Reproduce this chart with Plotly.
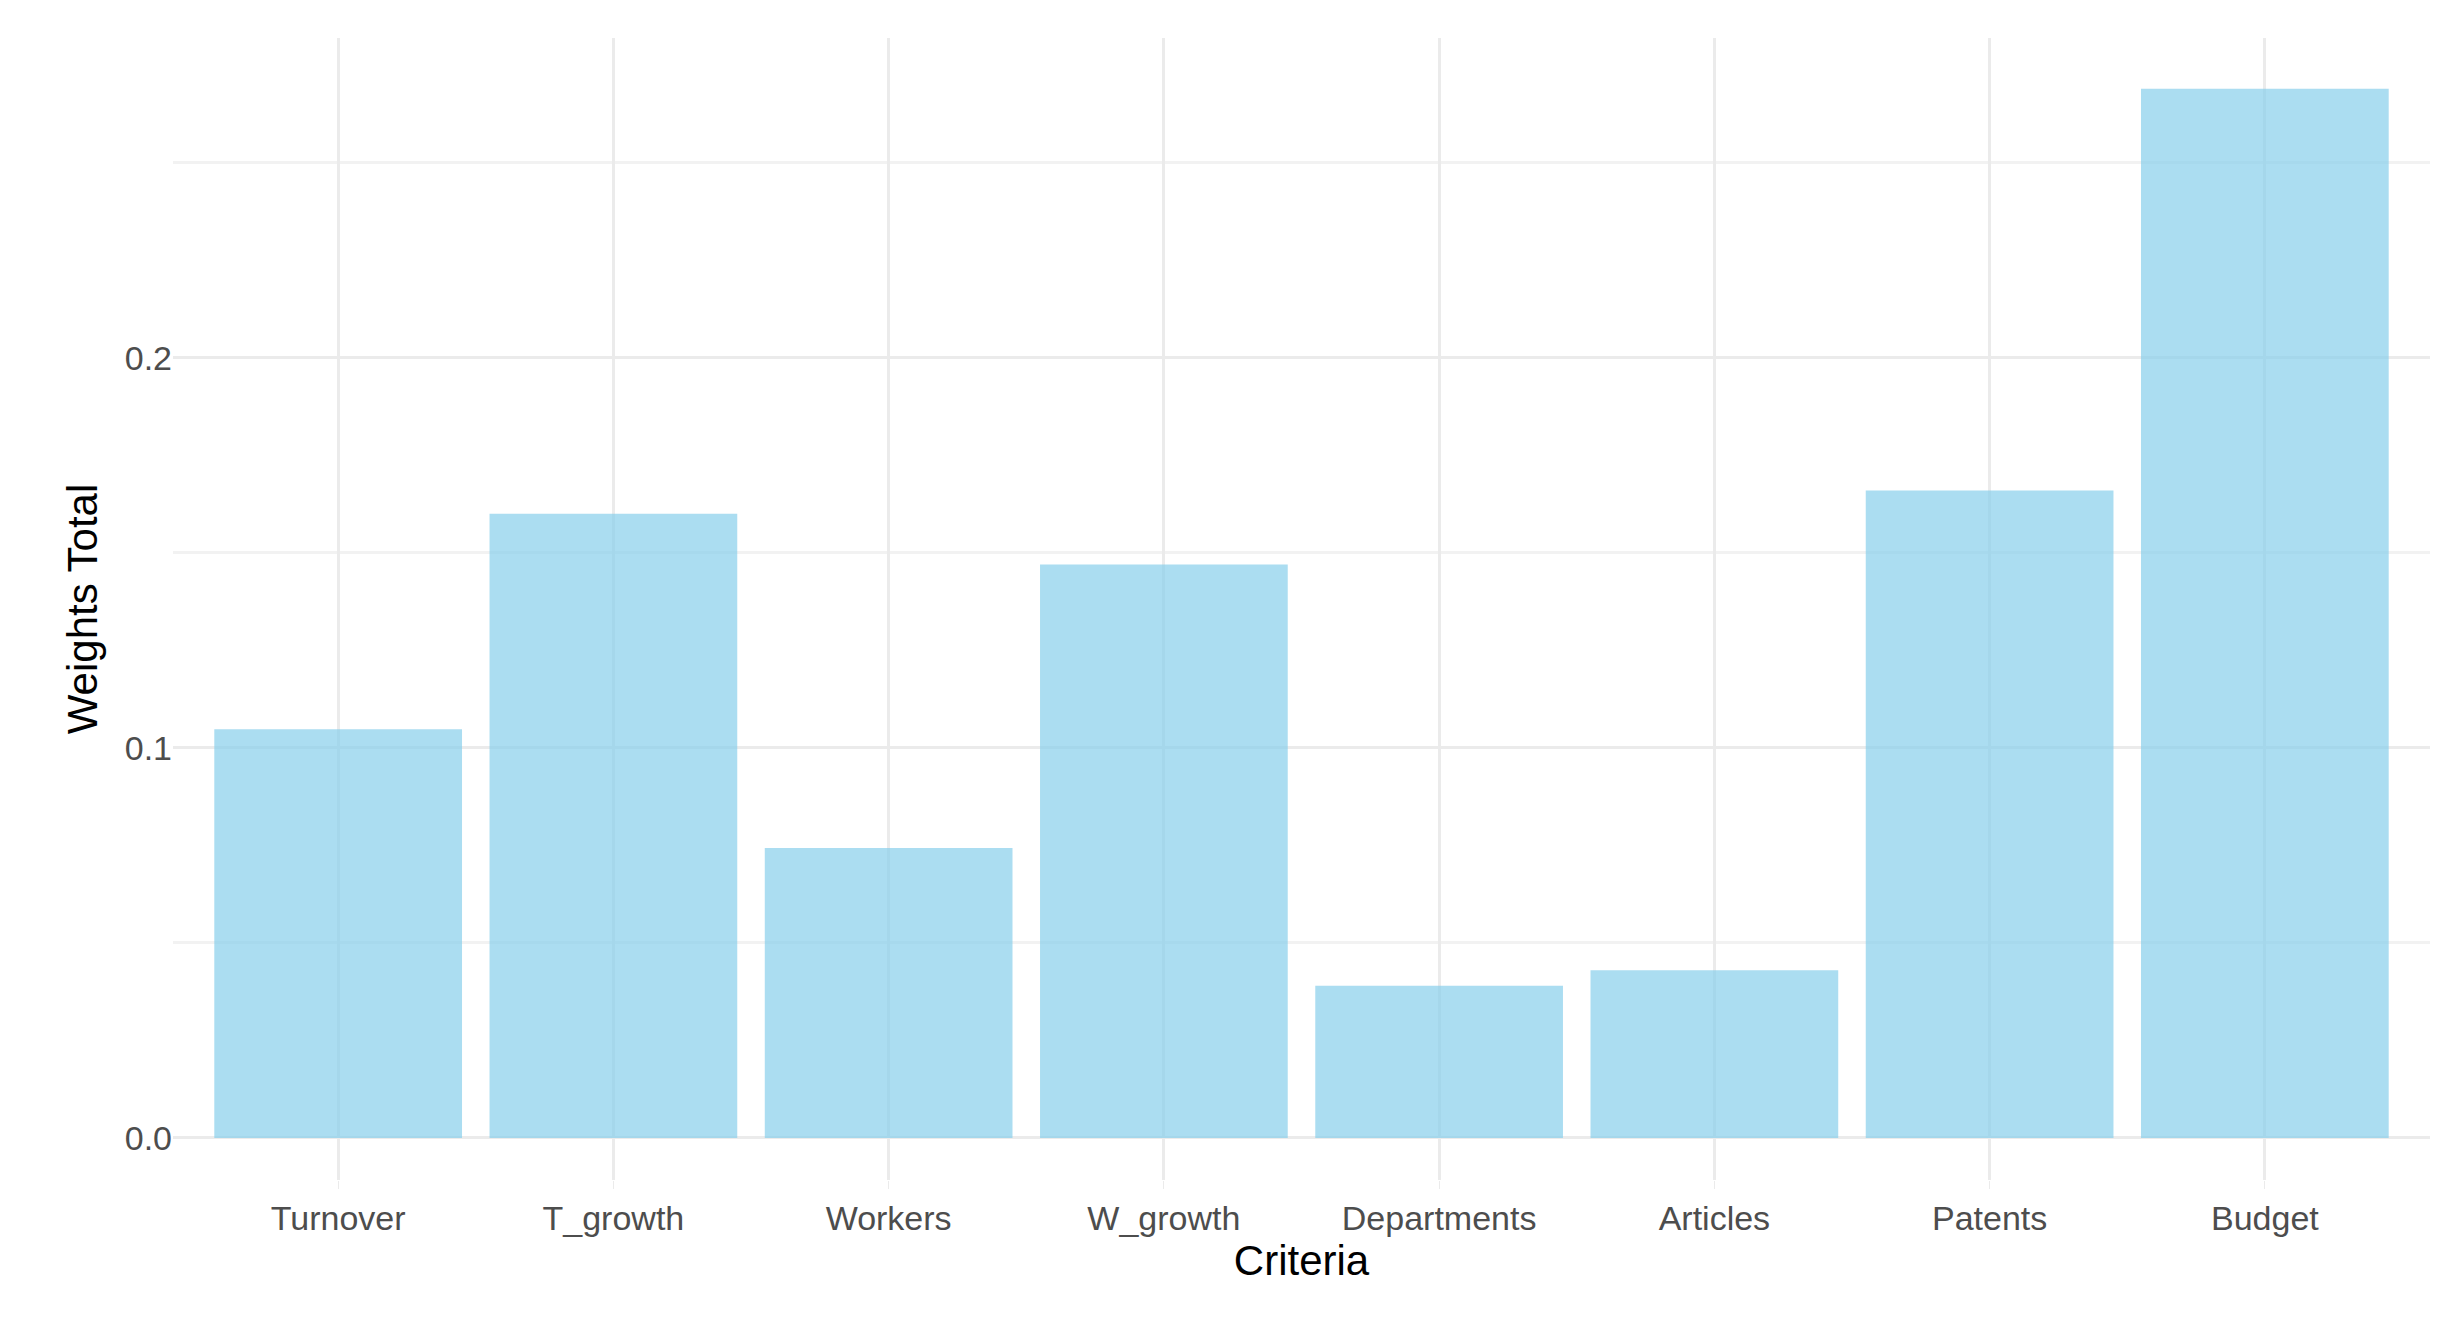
import plotly.graph_objects as go

criteria = ["Turnover", "T_growth", "Workers", "W_growth", "Departments", "Articles", "Patents", "Budget"]
weights = [0.1048, 0.160, 0.0743, 0.147, 0.039, 0.043, 0.166, 0.269]

fig = go.Figure(go.Bar(x=criteria, y=weights, marker=dict(color="skyblue", opacity=0.7, line=dict(width=0)), width=0.9))
fig.update_layout(
    width=2438, height=1342, plot_bgcolor="white", paper_bgcolor="white",
    margin=dict(l=165, r=16, t=30, b=170),
    font=dict(family="Liberation Sans, Arial", color="#4D4D4D", size=34),
    showlegend=False,
    bargap=0.1,
)
fig.update_xaxes(title=dict(text="Criteria", font=dict(size=42, color="black"), standoff=2),
                 range=[-0.6, 7.6], showgrid=True, gridcolor="#EBEBEB", gridwidth=3,
                 ticks="outside", ticklen=8, tickcolor="#EBEBEB", showline=False, zeroline=False)
fig.update_yaxes(title=dict(text="Weights Total", font=dict(size=42, color="black"), standoff=14),
                 range=[-0.0108, 0.282], tickvals=[0, 0.1, 0.2], ticktext=["0.0", "0.1", "0.2"],
                 showgrid=True, gridcolor="#EBEBEB", gridwidth=3, zeroline=False,
                 minor=dict(tickvals=[0.05, 0.15, 0.25], showgrid=True, gridcolor="#F2F2F2", gridwidth=3))
fig.write_html("out.html")
